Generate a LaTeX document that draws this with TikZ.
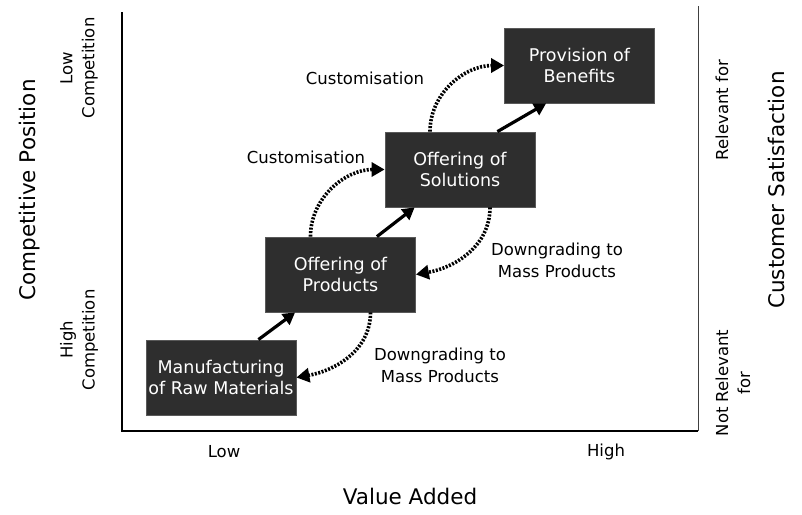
\documentclass[tikz,border=0pt]{standalone}
\usepackage{fontspec}
\setmainfont{DejaVu Sans}
\usetikzlibrary{arrows.meta}
\tikzset{
  stage/.style={fill=black!82, draw=black!65, line width=0.8pt, minimum width=150pt, minimum height=75pt,
    text=white, align=center, inner sep=0pt, font=\fontsize{17.5}{21}\selectfont},
  lbl/.style={align=center, font=\fontsize{16.5}{22}\selectfont, inner sep=0pt},
  axtitle/.style={font=\fontsize{21.5}{25}\selectfont, inner sep=0pt},
  flow/.style={line width=3.2pt, -{Triangle[length=12pt,width=13pt]}},
  back/.style={line width=3.6pt, dash pattern=on 2pt off 1.5pt, -{Triangle[length=13pt,width=14pt]}},
}
\begin{document}
\begin{tikzpicture}[x=1pt,y=-1pt]
\useasboundingbox (0,0) rectangle (802,514);
% axes
\coordinate (lt) at (122,12);
\coordinate (lb) at (122,431);
\coordinate (rb) at (698,431);
\coordinate (rt) at (698,6);
\draw[line width=1.8pt] (lt) -- (lb) -- (rb);
\draw[line width=0.9pt, black!75] (rb) -- (rt);

% stages
\node[stage] (manu) at (221,377.5) {Manufacturing\\of Raw Materials};
\node[stage] (prod) at (340.5,274.5) {Offering of\\Products};
\node[stage] (sol) at (460,169.5) {Offering of\\Solutions};
\node[stage] (ben) at (579.5,65.5) {Provision of\\Benefits};

% solid arrows
\draw[flow] ([xshift=-38pt]manu.north east) -- ([xshift=30pt]prod.south west);
\draw[flow] ([xshift=-39pt]prod.north east) -- ([xshift=30pt]sol.south west);
\draw[flow] ([xshift=-38pt]sol.north east) -- ([xshift=42pt]ben.south west);

% dotted arrows
\draw[back] ([xshift=-30pt]prod.north) to[out=90,in=180] (sol.west);
\draw[back] ([xshift=-30pt]sol.north) to[out=90,in=180] (ben.west);
\draw[back] ([xshift=30pt]sol.south) to[out=-90,in=10] (prod.east);
\draw[back] ([xshift=30pt]prod.south) to[out=-90,in=10] (manu.east);

% labels
\node[lbl] (c1) at (365,78) {Customisation};
\node[lbl] (c2) at (306,157) {Customisation};
\node[lbl] (d1) at (557,260) {Downgrading to\\Mass Products};
\node[lbl] (d2) at (440,365) {Downgrading to\\Mass Products};

% axis labels
\node[lbl] (low) at (224,452) {Low};
\node[lbl] (high) at (606,452) {High};
\node[axtitle] (va) at (410,496) {Value Added};
\node[axtitle, rotate=90] (cp) at (30,190) {Competitive Position};
\node[axtitle, rotate=90] (cs) at (776,190) {Customer Satisfaction};
\node[lbl, rotate=90] (lc) at (79,68) {Low\\Competition};
\node[lbl, rotate=90] (hc) at (79,340) {High\\Competition};
\node[lbl, rotate=90] (rf) at (722,110) {Relevant for};
\node[lbl, rotate=90] (nr) at (733,383) {Not Relevant\\for};
\end{tikzpicture}
\end{document}
